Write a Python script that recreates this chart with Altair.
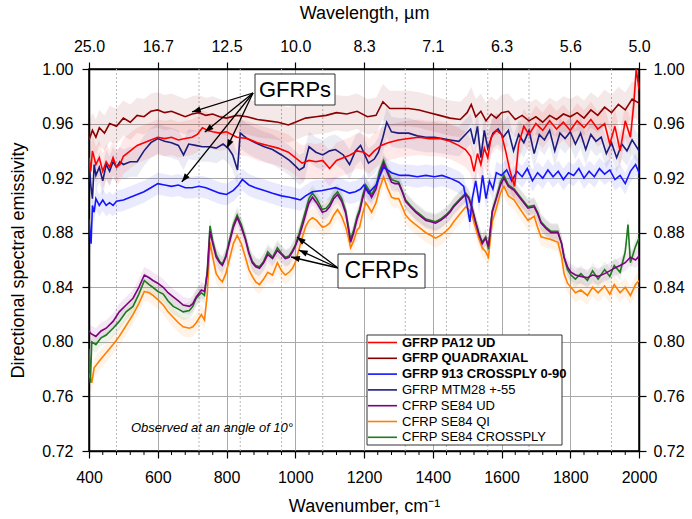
import altair as alt
import pandas as pd
import numpy as np

# ---------------- data ----------------
names = ["GFRP PA12 UD", "GFRP QUADRAXIAL", "GFRP 913 CROSSPLY 0-90", "GFRP MTM28 +-55",
         "CFRP SE84 UD", "CFRP SE84 QI", "CFRP SE84 CROSSPLY"]
colors = ["#ff0000", "#8b0000", "#1414ff", "#1c1c7e", "#800080", "#ff7f00", "#1f7a1f"]
bold = [True, True, True, False, False, False, False]
band_halfwidth = [0.013, 0.013, 0.008, 0.011, 0.006, 0.007, 0.006]

gfrp_pa12_ud = [(400,0.935),(405,0.925),(410,0.940),(420,0.930),(430,0.935),(440,0.925),(450,0.932),(460,0.928),
    (470,0.935),(480,0.928),(490,0.930),(500,0.936),(520,0.940),(540,0.944),(560,0.946),(580,0.948),(600,0.950),
    (620,0.949),(640,0.950),(660,0.948),(680,0.949),(700,0.950),(715,0.952),(730,0.957),(745,0.955),(760,0.954),
    (780,0.953),(800,0.954),(830,0.950),(860,0.949),(890,0.946),(920,0.944),(950,0.942),(980,0.939),(1000,0.935),
    (1020,0.931),(1040,0.933),(1060,0.932),(1080,0.933),(1100,0.927),(1120,0.933),(1140,0.935),(1160,0.937),
    (1180,0.940),(1200,0.939),(1215,0.936),(1230,0.940),(1250,0.944),(1270,0.946),(1300,0.948),(1330,0.949),
    (1360,0.950),(1390,0.949),(1420,0.949),(1450,0.947),(1475,0.944),(1495,0.941),(1510,0.936),(1520,0.925),
    (1530,0.938),(1540,0.930),(1550,0.942),(1560,0.935),(1570,0.950),(1585,0.955),(1600,0.952),(1612,0.940),
    (1625,0.925),(1638,0.914),(1650,0.945),(1665,0.958),(1680,0.952),(1700,0.960),(1720,0.955),(1740,0.962),
    (1760,0.956),(1780,0.961),(1800,0.955),(1820,0.962),(1840,0.957),(1860,0.963),(1880,0.956),(1900,0.960),
    (1915,0.945),(1930,0.958),(1945,0.940),(1960,0.962),(1975,0.950),(1985,0.975),(1992,1.000),(2000,0.985)]

gfrp_quadraxial = [(400,0.948),(410,0.955),(420,0.950),(430,0.957),(445,0.953),(460,0.960),(480,0.958),(500,0.964),
    (520,0.961),(540,0.966),(560,0.965),(580,0.969),(600,0.970),(620,0.968),(640,0.969),(660,0.967),(680,0.965),
    (700,0.967),(720,0.968),(740,0.966),(760,0.967),(780,0.965),(800,0.964),(830,0.966),(860,0.965),(890,0.963),
    (920,0.962),(950,0.961),(980,0.959),(1000,0.961),(1030,0.964),(1060,0.965),(1090,0.966),(1120,0.968),
    (1150,0.967),(1180,0.969),(1210,0.965),(1235,0.966),(1255,0.976),(1275,0.971),(1300,0.971),(1330,0.971),
    (1360,0.970),(1390,0.968),(1420,0.966),(1450,0.964),(1480,0.963),(1500,0.968),(1512,0.974),(1525,0.965),
    (1540,0.969),(1555,0.962),(1570,0.967),(1585,0.964),(1600,0.968),(1620,0.969),(1640,0.963),(1660,0.966),
    (1680,0.962),(1700,0.965),(1720,0.961),(1740,0.966),(1760,0.963),(1780,0.967),(1800,0.965),(1820,0.968),
    (1840,0.964),(1860,0.970),(1880,0.966),(1900,0.972),(1920,0.968),(1940,0.974),(1960,0.970),(1980,0.978),
    (2000,0.975)]

gfrp_913_crossply = [(400,0.890),(403,0.880),(406,0.872),(410,0.900),(415,0.895),(420,0.905),(430,0.900),(440,0.904),
    (450,0.900),(460,0.902),(470,0.900),(480,0.903),(500,0.904),(520,0.906),(540,0.908),(560,0.910),(580,0.913),
    (600,0.916),(620,0.915),(640,0.914),(660,0.915),(680,0.913),(700,0.913),(720,0.914),(740,0.913),(760,0.911),
    (780,0.909),(800,0.908),(820,0.911),(835,0.915),(846,0.919),(865,0.915),(884,0.913),(910,0.911),(934,0.909),
    (960,0.907),(983,0.906),(1000,0.905),(1015,0.904),(1030,0.907),(1050,0.910),(1079,0.911),(1100,0.912),
    (1117,0.913),(1140,0.911),(1158,0.909),(1175,0.910),(1190,0.912),(1200,0.915),(1213,0.909),(1235,0.915),
    (1257,0.928),(1280,0.924),(1305,0.922),(1330,0.922),(1355,0.921),(1380,0.922),(1405,0.921),(1427,0.922),
    (1450,0.920),(1476,0.917),(1490,0.914),(1500,0.900),(1508,0.888),(1515,0.905),(1525,0.918),(1535,0.902),
    (1545,0.922),(1555,0.905),(1565,0.918),(1575,0.912),(1585,0.924),(1600,0.922),(1615,0.926),(1630,0.918),
    (1645,0.925),(1660,0.921),(1675,0.927),(1690,0.918),(1705,0.924),(1720,0.920),(1735,0.926),(1750,0.921),
    (1765,0.925),(1780,0.919),(1795,0.924),(1810,0.922),(1825,0.927),(1840,0.920),(1855,0.925),(1870,0.921),
    (1885,0.927),(1900,0.923),(1915,0.926),(1930,0.919),(1945,0.922),(1960,0.916),(1975,0.925),(1990,0.930),
    (2000,0.924)]

gfrp_mtm28 = [(400,0.935),(405,0.915),(410,0.905),(415,0.930),(420,0.922),(430,0.928),(440,0.918),(450,0.930),
    (460,0.925),(470,0.932),(480,0.928),(490,0.932),(500,0.930),(520,0.932),(540,0.932),(560,0.940),(580,0.946),
    (600,0.949),(620,0.947),(640,0.946),(660,0.944),(675,0.937),(690,0.945),(710,0.944),(730,0.943),(750,0.943),
    (770,0.942),(790,0.945),(805,0.942),(818,0.937),(832,0.926),(840,0.953),(860,0.949),(884,0.946),(910,0.943),
    (934,0.941),(960,0.937),(983,0.933),(1000,0.929),(1012,0.926),(1025,0.928),(1040,0.943),(1060,0.939),
    (1080,0.937),(1100,0.940),(1117,0.941),(1140,0.937),(1158,0.930),(1175,0.940),(1190,0.944),(1213,0.931),
    (1230,0.934),(1242,0.939),(1255,0.950),(1266,0.961),(1280,0.954),(1300,0.953),(1330,0.953),(1355,0.951),
    (1380,0.950),(1405,0.950),(1427,0.949),(1450,0.948),(1476,0.947),(1495,0.952),(1510,0.956),(1520,0.945),
    (1530,0.958),(1540,0.935),(1550,0.955),(1560,0.942),(1575,0.953),(1590,0.956),(1605,0.950),(1620,0.955),
    (1635,0.940),(1650,0.952),(1665,0.946),(1680,0.955),(1695,0.938),(1710,0.952),(1725,0.948),(1740,0.955),
    (1755,0.940),(1770,0.953),(1785,0.949),(1800,0.954),(1815,0.945),(1830,0.953),(1845,0.941),(1860,0.952),
    (1875,0.947),(1890,0.950),(1905,0.938),(1920,0.946),(1935,0.935),(1950,0.945),(1965,0.940),(1980,0.948),
    (2000,0.940)]

cfrp_se84_ud = [(400,0.808),(406,0.806),(420,0.804),(435,0.808),(450,0.810),(470,0.815),(488,0.822),(508,0.827),
    (528,0.832),(545,0.840),(561,0.849),(575,0.847),(586,0.845),(600,0.843),(616,0.840),(630,0.836),(645,0.833),
    (660,0.830),(674,0.827),(692,0.826),(702,0.828),(712,0.833),(727,0.838),(736,0.837),(744,0.850),(752,0.881),
    (760,0.872),(770,0.862),(780,0.858),(788,0.856),(798,0.862),(808,0.872),(820,0.884),(831,0.891),(843,0.884),
    (855,0.875),(865,0.865),(875,0.858),(885,0.855),(896,0.854),(908,0.858),(920,0.864),(934,0.861),(948,0.867),
    (960,0.864),(971,0.861),(982,0.862),(992,0.866),(1000,0.870),(1012,0.878),(1022,0.886),(1031,0.894),
    (1040,0.902),(1050,0.906),(1062,0.902),(1079,0.895),(1090,0.896),(1100,0.899),(1112,0.905),(1123,0.908),
    (1135,0.903),(1147,0.894),(1155,0.882),(1161,0.873),(1170,0.880),(1180,0.890),(1187,0.895),(1196,0.905),
    (1205,0.913),(1213,0.910),(1222,0.906),(1235,0.912),(1245,0.922),(1257,0.931),(1268,0.924),(1280,0.917),
    (1290,0.916),(1301,0.916),(1311,0.910),(1321,0.903),(1335,0.899),(1350,0.895),(1365,0.892),(1380,0.889),
    (1395,0.888),(1408,0.887),(1423,0.889),(1438,0.892),(1450,0.895),(1461,0.899),(1480,0.904),(1496,0.908),
    (1505,0.905),(1514,0.898),(1524,0.888),(1534,0.879),(1544,0.872),(1554,0.876),(1562,0.870),(1573,0.895),
    (1585,0.905),(1597,0.915),(1607,0.920),(1620,0.914),(1637,0.911),(1655,0.905),(1677,0.898),(1695,0.899),
    (1705,0.894),(1715,0.887),(1730,0.883),(1744,0.880),(1764,0.880),(1775,0.872),(1782,0.862),(1792,0.855),
    (1802,0.851),(1815,0.849),(1831,0.848),(1850,0.847),(1865,0.849),(1881,0.848),(1900,0.850),(1915,0.852),
    (1928,0.854),(1945,0.856),(1960,0.858),(1975,0.862),(1990,0.860),(2000,0.863)]

cfrp_se84_qi = [(400,0.777),(408,0.770),(415,0.781),(430,0.786),(450,0.792),(470,0.798),(488,0.804),(508,0.812),
    (528,0.820),(545,0.828),(561,0.837),(575,0.836),(586,0.834),(600,0.831),(616,0.827),(630,0.822),(645,0.818),
    (660,0.814),(674,0.811),(692,0.810),(702,0.811),(712,0.814),(727,0.820),(736,0.816),(744,0.835),(752,0.873),
    (760,0.862),(770,0.850),(780,0.846),(788,0.844),(798,0.850),(808,0.860),(820,0.872),(831,0.878),(843,0.872),
    (855,0.862),(865,0.853),(875,0.848),(885,0.844),(896,0.842),(908,0.846),(920,0.851),(934,0.849),(948,0.858),
    (960,0.852),(971,0.849),(982,0.851),(992,0.854),(1000,0.858),(1012,0.869),(1022,0.878),(1031,0.885),
    (1040,0.889),(1050,0.891),(1062,0.889),(1079,0.884),(1090,0.885),(1100,0.887),(1112,0.893),(1123,0.897),
    (1135,0.892),(1147,0.884),(1155,0.876),(1161,0.869),(1170,0.874),(1180,0.882),(1187,0.884),(1196,0.894),
    (1205,0.902),(1213,0.899),(1222,0.895),(1235,0.902),(1245,0.912),(1257,0.921),(1268,0.913),(1280,0.906),
    (1290,0.905),(1301,0.905),(1311,0.899),(1321,0.893),(1335,0.889),(1350,0.886),(1365,0.883),(1380,0.880),
    (1395,0.878),(1408,0.876),(1423,0.878),(1438,0.881),(1450,0.884),(1461,0.888),(1480,0.894),(1496,0.899),
    (1505,0.897),(1514,0.893),(1524,0.884),(1534,0.876),(1544,0.869),(1554,0.866),(1562,0.862),(1573,0.888),
    (1585,0.898),(1597,0.909),(1607,0.914),(1620,0.907),(1637,0.904),(1655,0.897),(1677,0.889),(1695,0.892),
    (1705,0.884),(1715,0.877),(1730,0.876),(1744,0.875),(1764,0.873),(1775,0.862),(1782,0.850),(1792,0.843),
    (1802,0.840),(1815,0.836),(1831,0.838),(1850,0.834),(1865,0.840),(1881,0.836),(1900,0.841),(1915,0.835),
    (1928,0.842),(1945,0.836),(1960,0.840),(1975,0.834),(1990,0.842),(2000,0.845)]

cfrp_se84_crossply = [(400,0.795),(404,0.770),(408,0.800),(420,0.798),(435,0.803),(450,0.805),(470,0.810),(488,0.815),
    (508,0.822),(528,0.826),(545,0.835),(561,0.845),(575,0.842),(586,0.840),(600,0.837),(616,0.835),(630,0.830),
    (645,0.826),(660,0.824),(674,0.822),(692,0.823),(702,0.826),(712,0.832),(727,0.836),(736,0.834),(744,0.852),
    (752,0.885),(760,0.874),(770,0.864),(780,0.859),(788,0.857),(798,0.863),(808,0.874),(820,0.886),(831,0.893),
    (843,0.886),(855,0.876),(865,0.866),(875,0.859),(885,0.856),(896,0.855),(908,0.859),(920,0.866),(934,0.862),
    (948,0.869),(960,0.865),(971,0.862),(982,0.863),(992,0.867),(1000,0.871),(1012,0.880),(1022,0.889),
    (1031,0.897),(1040,0.905),(1050,0.909),(1062,0.905),(1079,0.897),(1090,0.898),(1100,0.901),(1112,0.907),
    (1123,0.910),(1135,0.905),(1147,0.896),(1155,0.884),(1161,0.875),(1170,0.882),(1180,0.892),(1187,0.897),
    (1196,0.907),(1205,0.915),(1213,0.912),(1222,0.908),(1235,0.914),(1245,0.925),(1257,0.933),(1268,0.926),
    (1280,0.919),(1290,0.918),(1301,0.917),(1311,0.911),(1321,0.904),(1335,0.900),(1350,0.896),(1365,0.893),
    (1380,0.890),(1395,0.889),(1408,0.888),(1423,0.890),(1438,0.893),(1450,0.896),(1461,0.900),(1480,0.905),
    (1496,0.909),(1505,0.906),(1514,0.899),(1524,0.889),(1534,0.880),(1544,0.873),(1554,0.877),(1562,0.868),
    (1573,0.896),(1585,0.906),(1597,0.917),(1607,0.922),(1620,0.915),(1637,0.912),(1655,0.906),(1677,0.899),
    (1695,0.900),(1705,0.895),(1715,0.888),(1730,0.884),(1744,0.881),(1764,0.881),(1775,0.872),(1782,0.862),
    (1792,0.853),(1802,0.849),(1815,0.846),(1831,0.850),(1850,0.845),(1865,0.852),(1881,0.846),(1900,0.853),
    (1915,0.848),(1928,0.856),(1945,0.851),(1960,0.866),(1968,0.886),(1975,0.858),(1990,0.870),(2000,0.876)]

x_major = [400, 600, 800, 1000, 1200, 1400, 1600, 1800, 2000]
y_major = [0.72, 0.76, 0.80, 0.84, 0.88, 0.92, 0.96, 1.00]

annotation_labels = ["GFRPs", "CFRPs"]
gfrp_arrow_tips = [(700, 0.9685), (737, 0.9538), (801, 0.9420), (670, 0.9172)]
cfrp_arrow_tips = [(1005, 0.8769), (1011, 0.8673), (988, 0.8622)]
note_text = "Observed at an angle of 10°"

# ---------------- layout helpers ----------------
W, H = 550, 382
XMIN, XMAX, YMIN, YMAX = 400, 2000, 0.72, 1.00
FONT = "Liberation Sans"

def px2w(px):
    return XMIN + px * (XMAX - XMIN) / W

def py2v(py):
    return YMAX - py * (YMAX - YMIN) / H

XS = alt.Scale(domain=[XMIN, XMAX], nice=False, zero=False, padding=0)
YS = alt.Scale(domain=[YMIN, YMAX], nice=False, zero=False, padding=0)

series = [gfrp_pa12_ud, gfrp_quadraxial, gfrp_913_crossply, gfrp_mtm28,
          cfrp_se84_ud, cfrp_se84_qi, cfrp_se84_crossply]
draw_order = [5, 6, 4, 2, 3, 0, 1]

rows = []
for rank, i in enumerate(draw_order):
    hw = band_halfwidth[i]
    for w, v in series[i]:
        rows.append(dict(series=names[i], wn=w, val=v, lo=v - hw, hi=v + hw, rank=rank))
df = pd.DataFrame(rows)

color_scale = alt.Scale(domain=names, range=colors)

axis_common = dict(labelFont=FONT, titleFont=FONT, labelFontSize=16, titleFontSize=18,
                   labelColor="black", titleColor="black", titleFontWeight="normal",
                   domainColor="black", domainWidth=1.5, tickColor="black", tickWidth=1.2,
                   tickSize=7, labelFlush=False, labelOverlap=False)

bottom_axis = alt.Axis(orient="bottom", values=x_major, format="d", labelPadding=11,
                       title="Wavenumber, cm⁻¹", titlePadding=12, grid=True,
                       gridColor="#a9a9a9", gridWidth=1, **axis_common)
left_axis = alt.Axis(orient="left", values=y_major, format=".2f", labelPadding=9,
                     title="Directional spectral emissivity", titlePadding=14, grid=True,
                     gridColor="#a9a9a9", gridWidth=1, **axis_common)
top_axis = alt.Axis(orient="top", values=x_major, labelExpr="format(10000/datum.value, '.1f')",
                    labelPadding=8, title="Wavelength, µm", titlePadding=16, grid=False,
                    **axis_common)
right_axis = alt.Axis(orient="right", values=y_major, format=".2f", labelPadding=7,
                      title=None, grid=False, **axis_common)

# dotted minor grid (every 120 cm-1, skipping major lines)
minor_grid = pd.DataFrame({"wn": [w for w in range(480, 2000, 120) if w % 200 != 0]})
grid_layer = alt.Chart(minor_grid).mark_rule(color="#b8b8b8", strokeDash=[2, 2], strokeWidth=1).encode(
    x=alt.X("wn:Q", scale=XS, axis=None), y=alt.value(0), y2=alt.value(H))

bands = alt.Chart(df).mark_area(fillOpacity=0.09, strokeWidth=0, clip=True, interpolate="linear").encode(
    x=alt.X("wn:Q", scale=XS, axis=None),
    y=alt.Y("lo:Q", scale=YS, axis=None, stack=None),
    y2=alt.Y2("hi:Q"),
    fill=alt.Fill("series:N", scale=color_scale, legend=None),
    detail="series:N")

lines = alt.Chart(df).mark_line(strokeWidth=1.6, clip=True).encode(
    x=alt.X("wn:Q", scale=XS, axis=bottom_axis),
    y=alt.Y("val:Q", scale=YS, axis=left_axis),
    color=alt.Color("series:N", scale=color_scale, legend=None),
    order=alt.Order("wn:Q"))

minor_ticks = pd.DataFrame({"wn": [w for w in range(440, 2000, 40) if w % 200 != 0]})
tick_layer = alt.Chart(minor_ticks).mark_rule(color="black", strokeWidth=1).encode(
    x=alt.X("wn:Q", scale=XS, axis=None), y=alt.value(H), y2=alt.value(H + 4))

dummy = pd.DataFrame({"wn": [XMIN, XMAX], "val": [YMIN, YMAX]})
axes2 = alt.Chart(dummy).mark_point(opacity=0).encode(
    x=alt.X("wn:Q", scale=XS, axis=top_axis),
    y=alt.Y("val:Q", scale=YS, axis=right_axis))

# ---------------- annotations ----------------
box_df = pd.DataFrame([
    dict(label=annotation_labels[0], x=px2w(166), x2=px2w(246), y=py2v(5), y2=py2v(36),
         tx=px2w(206), ty=py2v(20.5)),
    dict(label=annotation_labels[1], x=px2w(249), x2=px2w(336), y=py2v(185), y2=py2v(219),
         tx=px2w(292.5), ty=py2v(202)),
])

px_per_w = W / (XMAX - XMIN)
px_per_v = H / (YMAX - YMIN)
arrow_rows = []
for tail, tips in [((px2w(164), py2v(24)), gfrp_arrow_tips), ((px2w(249), py2v(199)), cfrp_arrow_tips)]:
    for tw, tv in tips:
        dx = (tw - tail[0]) * px_per_w
        dy = -(tv - tail[1]) * px_per_v
        ang = (np.degrees(np.arctan2(dx, -dy)) + 360) % 360
        arrow_rows.append(dict(x=tail[0], y=tail[1], x2=tw, y2=tv, ang=float(ang)))
arrow_df = pd.DataFrame(arrow_rows)

arrow_lines = alt.Chart(arrow_df).mark_rule(color="black", strokeWidth=1.3).encode(
    x=alt.X("x:Q", scale=XS, axis=None), x2="x2:Q",
    y=alt.Y("y:Q", scale=YS, axis=None), y2="y2:Q")
arrow_heads = alt.Chart(arrow_df).mark_point(
    shape="M0,0 L0.36,1 L-0.36,1 Z", filled=True, size=300, color="black", opacity=1).encode(
    x=alt.X("x2:Q", scale=XS, axis=None),
    y=alt.Y("y2:Q", scale=YS, axis=None),
    angle=alt.Angle("ang:Q", scale=None))

boxes = alt.Chart(box_df).mark_rect(fill="white", stroke="#333333", strokeWidth=1).encode(
    x=alt.X("x:Q", scale=XS, axis=None), x2="x2:Q",
    y=alt.Y("y:Q", scale=YS, axis=None), y2="y2:Q")
box_text_g = alt.Chart(box_df.iloc[[0]]).mark_text(font=FONT, fontSize=22, color="black",
                                                   align="center", baseline="middle").encode(
    x=alt.X("tx:Q", scale=XS, axis=None), y=alt.Y("ty:Q", scale=YS, axis=None), text="label:N")
box_text_c = alt.Chart(box_df.iloc[[1]]).mark_text(font=FONT, fontSize=23, color="black",
                                                   align="center", baseline="middle").encode(
    x=alt.X("tx:Q", scale=XS, axis=None), y=alt.Y("ty:Q", scale=YS, axis=None), text="label:N")

note_df = pd.DataFrame([dict(t=note_text, x=px2w(42), y=py2v(359))])
note = alt.Chart(note_df).mark_text(font=FONT, fontSize=13, fontStyle="italic", color="black",
                                    align="left", baseline="middle").encode(
    x=alt.X("x:Q", scale=XS, axis=None), y=alt.Y("y:Q", scale=YS, axis=None), text="t:N")

# ---------------- legend ----------------
leg_box = pd.DataFrame([dict(x=px2w(278), x2=px2w(473), y=py2v(266), y2=py2v(376))])
legend_box = alt.Chart(leg_box).mark_rect(fill="white", stroke="#333333", strokeWidth=1).encode(
    x=alt.X("x:Q", scale=XS, axis=None), x2="x2:Q",
    y=alt.Y("y:Q", scale=YS, axis=None), y2="y2:Q")
leg_rows = []
for i, n in enumerate(names):
    yy = py2v(273.5 + 15.8 * i)
    leg_rows.append(dict(series=n, x=px2w(279), x2=px2w(308), tx=px2w(313), y=yy,
                         bold=bold[i]))
leg_df = pd.DataFrame(leg_rows)
legend_lines = alt.Chart(leg_df).mark_rule(strokeWidth=1.6).encode(
    x=alt.X("x:Q", scale=XS, axis=None), x2="x2:Q",
    y=alt.Y("y:Q", scale=YS, axis=None),
    color=alt.Color("series:N", scale=color_scale, legend=None))
legend_bold = alt.Chart(leg_df[leg_df.bold]).mark_text(
    font=FONT, fontSize=13, fontWeight="bold", color="black", align="left", baseline="middle").encode(
    x=alt.X("tx:Q", scale=XS, axis=None), y=alt.Y("y:Q", scale=YS, axis=None), text="series:N")
legend_norm = alt.Chart(leg_df[~leg_df.bold]).mark_text(
    font=FONT, fontSize=13, color="black", align="left", baseline="middle").encode(
    x=alt.X("tx:Q", scale=XS, axis=None), y=alt.Y("y:Q", scale=YS, axis=None), text="series:N")

chart = alt.layer(
    grid_layer, bands, lines, tick_layer, axes2,
    arrow_lines, arrow_heads, boxes, box_text_g, box_text_c, note,
    legend_box, legend_lines, legend_bold, legend_norm
).resolve_axis(x="independent", y="independent").properties(
    width=W, height=H,
    padding={"left": 89, "top": 69, "right": 53, "bottom": 68},
    autosize=alt.AutoSizeParams(type="none"),
    background="white",
).configure_view(stroke="black", strokeWidth=1.5)

chart.save("out.html", embed_options={"renderer": "svg", "actions": False})
